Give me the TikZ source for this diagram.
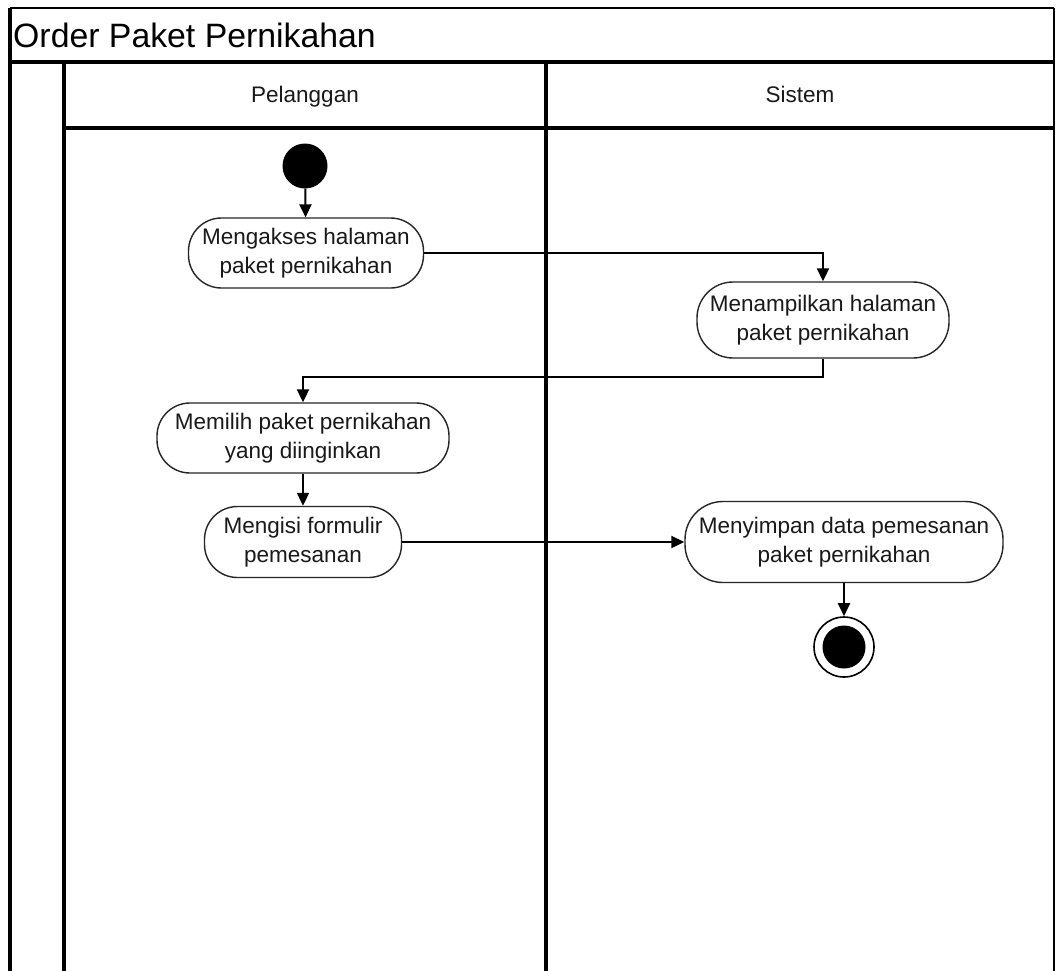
\documentclass[tikz,border=0pt]{standalone}
\usepackage{fontspec}
\setmainfont{Liberation Sans}
\usetikzlibrary{arrows.meta}

\begin{document}
\begin{tikzpicture}[x=1pt,y=-1pt,
  lane/.style={line width=3.5pt,black},
  frameline/.style={line width=2.5pt,black},
  action/.style={draw=black!85,line width=1.4pt,fill=white,rectangle,
    align=center,inner sep=2pt,text=black!90,
    font=\fontsize{22.5}{29}\selectfont},
  flow/.style={line width=2pt,black,-{Triangle[length=13pt,width=12pt]}},
  lanelabel/.style={anchor=base,font=\fontsize{22.5}{27}\selectfont,text=black!90}]

\useasboundingbox (0,0) rectangle (1056,970);
\clip (0,0) rectangle (1056,970);
\fill[white] (0,0) rectangle (1056,970);

% swimlane frame
\draw[frameline] (10,8) -- (1054,8);
\draw[frameline] (1054,8) -- (1054,990);
\draw[lane] (10,8) -- (10,990);
\draw[line width=4pt] (10,62) -- (1054,62);
\draw[lane] (64,62) -- (64,990);
\draw[lane] (546,62) -- (546,990);
\draw[lane] (64,128) -- (1054,128);

% titles
\node[anchor=base west,inner sep=0pt,font=\fontsize{33.8}{40}\selectfont] (title) at (13,47) {Order Paket Pernikahan};
\node[lanelabel] (lanePel) at (305,102) {Pelanggan};
\node[lanelabel] (laneSis) at (800,102) {Sistem};

% initial node
\node[circle,fill=black,minimum size=45pt,inner sep=0pt] (start) at (305,166) {};

% actions
\node[action,minimum width=235pt,minimum height=70pt,rounded corners=33pt] (akses) at (306,253) {Mengakses halaman\\paket pernikahan};
\node[action,minimum width=252pt,minimum height=76pt,rounded corners=36pt] (tampil) at (823,320) {Menampilkan halaman\\paket pernikahan};
\node[action,minimum width=292pt,minimum height=70pt,rounded corners=33pt] (pilih) at (303,438) {Memilih paket pernikahan\\yang diinginkan};
\node[action,minimum width=197pt,minimum height=71pt,rounded corners=33pt] (isi) at (303,542) {Mengisi formulir\\pemesanan};
\node[action,minimum width=318pt,minimum height=81pt,rounded corners=38pt] (simpan) at (844,542) {Menyimpan data pemesanan\\paket pernikahan};

% final node
\node[circle,draw=black,line width=1.6pt,fill=white,minimum size=60pt,inner sep=0pt] (final) at (844,647) {};
\node[circle,fill=black,minimum size=43pt,inner sep=0pt] (finaldot) at (final.center) {};

% control flow
\draw[flow] (start) -- (akses);
\draw[flow] (akses.east) -| (tampil.north);
\draw[flow] (tampil.south) -- ++(0,18) -| (pilih.north);
\draw[flow] (pilih) -- (isi);
\draw[flow] (isi.east) -- (simpan.west);
\draw[flow] (simpan.south) -- (final.north);
\end{tikzpicture}
\end{document}
